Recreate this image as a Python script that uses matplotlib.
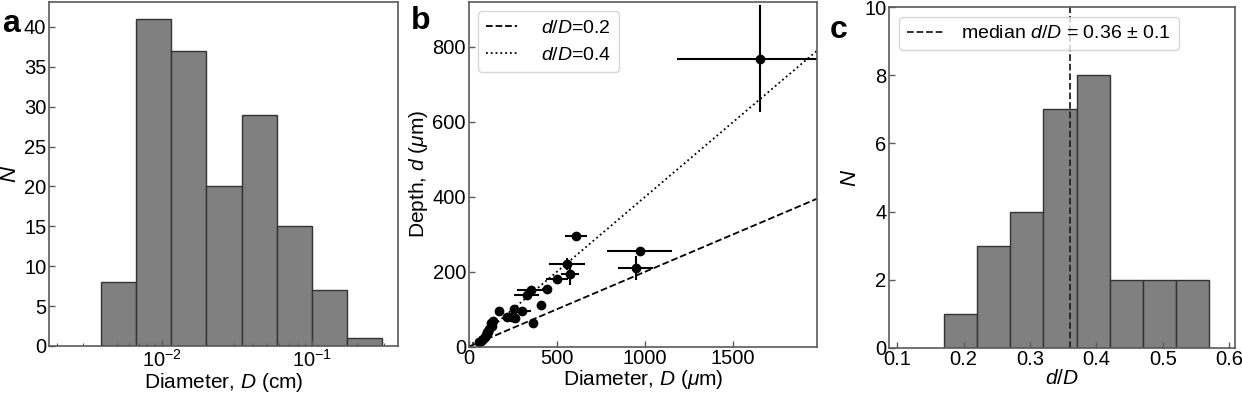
import numpy as np
import matplotlib

matplotlib.use("Agg")
import matplotlib.pyplot as plt

plt.rcParams["font.family"] = ["Liberation Sans", "DejaVu Sans"]
plt.rcParams["mathtext.fontset"] = "custom"
plt.rcParams["mathtext.rm"] = "Liberation Sans"
plt.rcParams["mathtext.it"] = "Liberation Sans:italic"
plt.rcParams["mathtext.bf"] = "Liberation Sans:bold"

# ---- panel a: crater diameters (cm), log bins ----
a_edges = [0.00391, 0.00671, 0.01151, 0.01977, 0.03396, 0.05821, 0.1, 0.1718, 0.2944]
a_counts = [8, 41, 37, 20, 29, 15, 7, 1]

# ---- panel b: diameter vs depth (um) ----
b_D = [1650, 970, 947, 610, 557, 576, 499, 442, 355, 329, 410, 300, 257, 170,
       215, 245, 262, 363, 136, 125, 117, 111, 98, 83, 60, 70, 90, 105, 130]
b_d = [769, 255, 209, 296, 220, 194, 180, 154, 152, 137, 110, 96, 101, 96,
       80, 78, 76, 62, 69, 64, 47, 40, 31, 20, 13, 16, 26, 38, 55]
b_D_err = [470, 185, 100, 63, 100, 52, 62, 25, 80, 70, 8, 54, 8, 8,
           8, 8, 8, 8, 8, 8, 8, 8, 8, 8, 8, 8, 8, 8, 8]
b_d_err = [143, 12, 32, 5, 16, 29, 5, 5, 5, 5, 8, 5, 5, 5,
           5, 5, 5, 5, 5, 5, 5, 5, 5, 5, 5, 5, 5, 5, 5]
b_ratios = [0.2, 0.4]

# ---- panel c: d/D histogram ----
c_edges = [0.17, 0.22, 0.27, 0.32, 0.37, 0.42, 0.47, 0.52, 0.57]
c_counts = [1, 3, 4, 7, 8, 2, 2, 2]
c_median = 0.36

SPINE = "#5a5a5a"
BAR = "#808080"
FS = 14.5     # tick labels
LFS = 15      # axis labels
LEG = 14      # legend text

fig = plt.figure(figsize=(12.42, 3.93), dpi=100)
ax_a = fig.add_axes([0.0395, 0.1196, 0.281, 0.875])
ax_b = fig.add_axes([0.3774, 0.1178, 0.2804, 0.878])
ax_c = fig.add_axes([0.716, 0.1153, 0.2786, 0.866])


def style(ax):
    for s in ax.spines.values():
        s.set_color(SPINE)
        s.set_linewidth(1.2)
    ax.tick_params(direction="in", colors=SPINE, labelcolor="black",
                   labelsize=FS, width=1.0, length=4, pad=2)
    ax.tick_params(which="minor", direction="in", colors=SPINE, length=2.5, width=0.8)


# panel a
ax_a.hist(a_edges[:-1], bins=a_edges, weights=a_counts, color=BAR,
          edgecolor="#333333", linewidth=1.0)
ax_a.set_xscale("log")
ax_a.set_xlim(0.00177, 0.374)
ax_a.set_ylim(0, 43.1)
ax_a.set_yticks(range(0, 41, 5))
ax_a.set_xlabel(r"Diameter, $D$ (cm)", fontsize=LFS, labelpad=0)
ax_a.set_ylabel(r"$N$", fontsize=LFS + 1, labelpad=2)
style(ax_a)

# panel b
xmax = 1975
xs = np.array([0, xmax])
ax_b.plot(xs, b_ratios[0] * xs, "--", color="black", lw=1.3, label=r"$d/D$=0.2")
ax_b.plot(xs, b_ratios[1] * xs, ":", color="black", lw=1.3, label=r"$d/D$=0.4")
ax_b.errorbar(b_D, b_d, xerr=b_D_err, yerr=b_d_err, fmt="o", color="black",
              ms=6, elinewidth=1.5, capsize=0)
ax_b.set_xlim(0, xmax)
ax_b.set_ylim(0, 921)
ax_b.set_xticks([0, 500, 1000, 1500])
ax_b.set_yticks([0, 200, 400, 600, 800])
ax_b.set_xlabel(r"Diameter, $D$ ($\mu$m)", fontsize=LFS, labelpad=0)
ax_b.set_ylabel(r"Depth, $d$ ($\mu$m)", fontsize=LFS, labelpad=2)
ax_b.legend(loc="upper left", fontsize=LEG, handlelength=1.6, handletextpad=1.2)
style(ax_b)

# panel c
ax_c.hist(c_edges[:-1], bins=c_edges, weights=c_counts, color=BAR,
          edgecolor="#333333", linewidth=1.0)
ax_c.axvline(c_median, color="#222222", ls="--", lw=1.3,
             label=r"median $d/D$ = 0.36 $\pm$ 0.1")
ax_c.set_xlim(0.088, 0.609)
ax_c.set_ylim(0, 10)
ax_c.set_xticks([0.1, 0.2, 0.3, 0.4, 0.5, 0.6])
ax_c.set_yticks([0, 2, 4, 6, 8, 10])
ax_c.set_xlabel(r"$d/D$", fontsize=LFS, labelpad=0)
ax_c.set_ylabel(r"$N$", fontsize=LFS + 1, labelpad=2)
ax_c.legend(loc="upper left", fontsize=LEG, handlelength=1.9, handletextpad=0.9)
style(ax_c)

# panel letters
for x, y, t in [(0.002, 1 - 32 / 393, "a"), (0.331, 1 - 29 / 393, "b"), (0.668, 1 - 38 / 393, "c")]:
    fig.text(x, y, t, fontsize=23, fontweight="bold", va="baseline", ha="left")

fig.savefig("out.png", dpi=100)
